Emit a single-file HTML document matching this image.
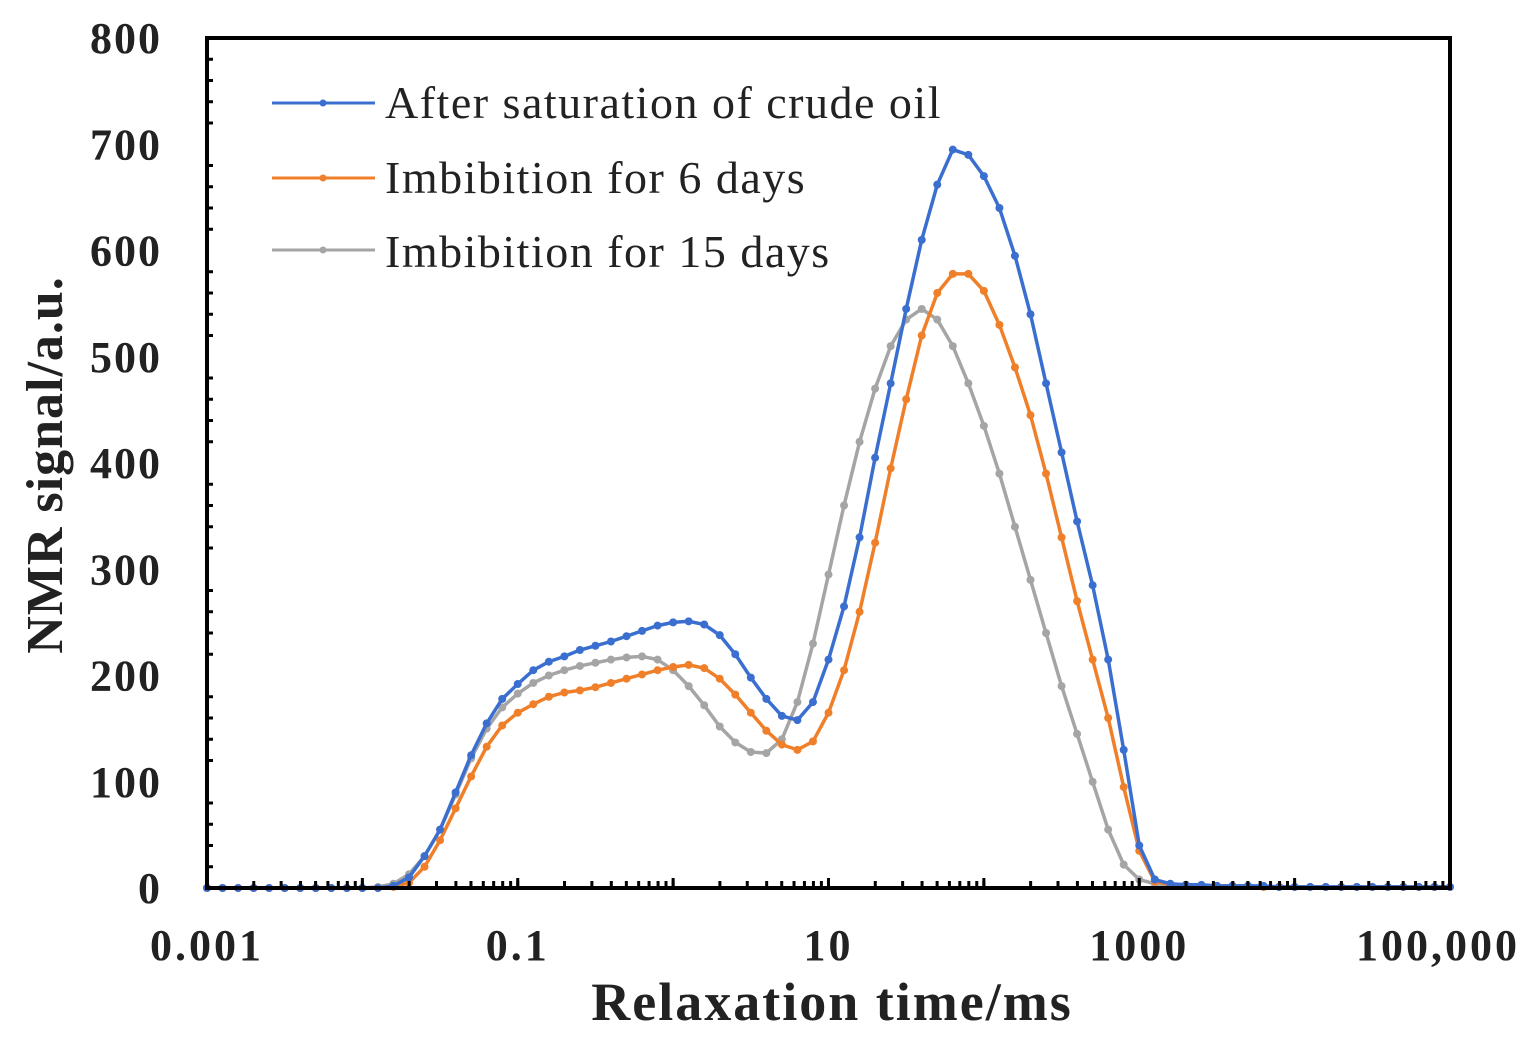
<!DOCTYPE html>
<html><head><meta charset="utf-8"><style>
body{margin:0;background:#fff}
svg text{font-family:"Liberation Serif",serif;font-weight:bold;fill:#222}
</style></head><body>
<svg id="chart" width="1531" height="1042" xmlns="http://www.w3.org/2000/svg">
<g id="grid"></g>
<g id="series"></g>
<g id="axes"></g>
<text transform="translate(62,465) rotate(-90)" text-anchor="middle" font-size="52" letter-spacing="1">NMR signal/a.u.</text>
<text x="832" y="1020" text-anchor="middle" font-size="54" letter-spacing="2">Relaxation time/ms</text>
<g>
<line x1="272" y1="103" x2="375" y2="103" stroke="#3a6fd0" stroke-width="3"/><circle cx="323" cy="103" r="3.5" fill="#3a6fd0"/>
<text x="385" y="118" font-size="46" letter-spacing="1.5" style="font-weight:normal">After saturation of crude oil</text>
<line x1="272" y1="178" x2="375" y2="178" stroke="#f07f2a" stroke-width="3"/><circle cx="323" cy="178" r="3.5" fill="#f07f2a"/>
<text x="385" y="193" font-size="46" letter-spacing="1.5" style="font-weight:normal">Imbibition for 6 days</text>
<line x1="272" y1="250" x2="375" y2="250" stroke="#a5a5a5" stroke-width="3"/><circle cx="323" cy="250" r="3.5" fill="#a5a5a5"/>
<text x="385" y="267" font-size="46" letter-spacing="1.5" style="font-weight:normal">Imbibition for 15 days</text>
</g>
</svg>
<script>
const logT = [];
for (let i = 0; i <= 80; i++) logT.push(-3 + i * 0.1);
const zeros19 = [0,0,0,0,0,0,0,0,0,0,0];
const blueVals = zeros19.concat([0,2,10,30,55,90,125,155,178,192,205,213,218,224,228,232,237,242,247,250,251,248,238,220,198,178,162,158,175,215,265,330,405,475,545,610,662,695,690,670,640,595,540,475,410,345,285,215,130,40,8,4,3,3,2,2,2,2,1,1,1,1,1,1,1,1,1,1,1,1]);
const orangeVals = zeros19.concat([0,1,5,20,45,75,105,133,153,165,173,180,184,186,189,193,197,201,205,208,210,207,197,182,165,148,135,130,138,165,205,260,325,395,460,520,560,578,578,562,530,490,445,390,330,270,215,160,95,35,6,3,3,2,2,2,2,1,1,1,1,1,1,1,1,1,1,1,1,1]);
const grayVals = zeros19.concat([1,4,13,30,55,88,122,150,170,183,193,200,205,209,212,215,217,218,215,205,190,172,152,137,128,127,140,175,230,295,360,420,470,510,535,545,535,510,475,435,390,340,290,240,190,145,100,55,22,8,4,3,3,2,2,2,2,1,1,1,1,1,1,1,1,1,1,1,1,1]);
const yTicks = [0,100,200,300,400,500,600,700,800];
const xTickLabels = ["0.001","0.1","10","1000","100,000"];
const xTickLogs = [-3,-1,1,3,5];

const L=207,R=1450,T=38,B=888;
const xs = l => L + (l + 3) / 8 * (R - L);
const ys = v => B - v / 800 * (B - T);
const NS="http://www.w3.org/2000/svg";
function mk(tag, parent){const e=document.createElementNS(NS,tag);document.getElementById(parent).appendChild(e);return e;}

function drawSeries(vals, color, name){
  const p = mk('path','series');
  
  
  p.setAttribute('d', vals.map((v,i)=>(i?'L':'M')+xs(logT[i]).toFixed(1)+','+ys(v).toFixed(1)).join(''));
  p.setAttribute('fill','none');p.setAttribute('stroke',color);p.setAttribute('stroke-width','3.5');
  vals.forEach((v,i)=>{
    const c = mk('circle','series');
    
    
    c.setAttribute('cx', xs(logT[i]));c.setAttribute('cy', ys(v));c.setAttribute('r','4');c.setAttribute('fill',color);
  });
}
drawSeries(grayVals,'#a5a5a5','series-15-days');
drawSeries(orangeVals,'#f07f2a','series-6-days');
drawSeries(blueVals,'#3a6fd0','series-saturation');

const fr = mk('rect','axes');


fr.setAttribute('x',L);fr.setAttribute('y',T);fr.setAttribute('width',R-L);fr.setAttribute('height',B-T);
fr.setAttribute('fill','none');fr.setAttribute('stroke','#000');fr.setAttribute('stroke-width','4');

yTicks.forEach(v=>{
  const t = mk('text','axes');
  
  
  t.setAttribute('x',162);t.setAttribute('y',ys(v)+15);t.setAttribute('text-anchor','end');t.setAttribute('font-size','44');t.setAttribute('letter-spacing','2');
  t.textContent=v;
  for(let k=1;k<5;k++){
    const m = mk('line','axes');
    
    
    const yy = ys(v + k*20);
    if (v<800){m.setAttribute('x1',L);m.setAttribute('x2',L+6);m.setAttribute('y1',yy);m.setAttribute('y2',yy);m.setAttribute('stroke','#000');m.setAttribute('stroke-width','3');}
  }
});
xTickLogs.forEach((l,i)=>{
  const t = mk('text','axes');
  
  
  t.setAttribute('x',xs(l)+(i==4?-12:0));t.setAttribute('y',960);t.setAttribute('text-anchor','middle');t.setAttribute('font-size','44');t.setAttribute('letter-spacing','3');
  t.textContent=xTickLabels[i];
});
for(let d=-3; d<5; d++){
  for(let k=1;k<=10;k++){
    const m = mk('line','axes');
    
    
    const xx = xs(d+Math.log10(k));
    m.setAttribute('x1',xx);m.setAttribute('x2',xx);m.setAttribute('y1',B);m.setAttribute('y2',B-(k==10?10:7));
    m.setAttribute('stroke','#000');m.setAttribute('stroke-width','3');
  }
}
</script>
</body></html>
